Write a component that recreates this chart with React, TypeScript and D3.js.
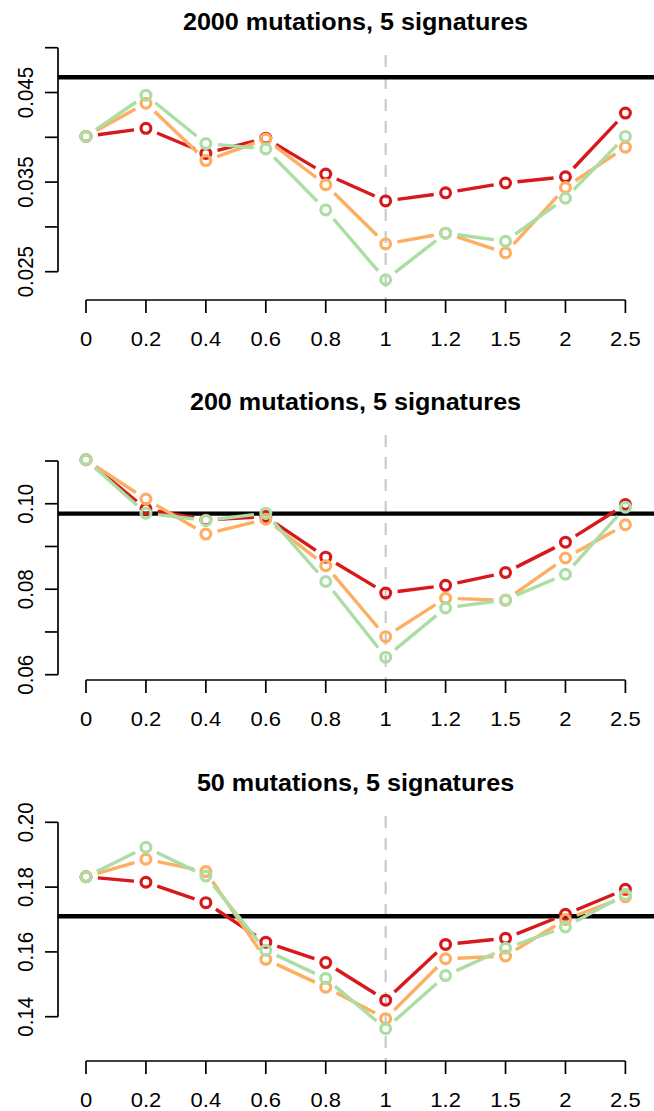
import React from "react";
import * as d3 from "d3";

const xLabels = ["0", "0.2", "0.4", "0.6", "0.8", "1", "1.2", "1.5", "2", "2.5"];
const seriesNames = ["red", "orange", "green"];
const seriesColors = ["#D7191C", "#FDAE61", "#ABDDA4"];

const titles = ["2000 mutations, 5 signatures", "200 mutations, 5 signatures", "50 mutations, 5 signatures"];

// panel 1: 2000 mutations
const p1Red = [0.0401, 0.0410, 0.0382, 0.0399, 0.0359, 0.0329, 0.0338, 0.0349, 0.0356, 0.0427];
const p1Orange = [0.0401, 0.0438, 0.0374, 0.0398, 0.0347, 0.0281, 0.0293, 0.0271, 0.0344, 0.0389];
const p1Green = [0.0401, 0.0447, 0.0393, 0.0387, 0.0319, 0.0241, 0.0293, 0.0284, 0.0332, 0.0401];
const p1Ref = 0.0467;
const p1Ticks = [0.025, 0.03, 0.035, 0.04, 0.045, 0.05];
const p1TickLabels = ["0.025", "", "0.035", "", "0.045", ""];

// panel 2: 200 mutations
const p2Red = [0.1103, 0.0988, 0.0962, 0.0970, 0.0875, 0.0791, 0.0809, 0.0839, 0.0910, 0.0998];
const p2Orange = [0.1103, 0.1011, 0.0929, 0.0964, 0.0855, 0.0689, 0.0779, 0.0774, 0.0873, 0.0951];
const p2Green = [0.1103, 0.0978, 0.0961, 0.0978, 0.0818, 0.0641, 0.0756, 0.0775, 0.0835, 0.0992];
const p2Ref = 0.0977;
const p2Ticks = [0.06, 0.07, 0.08, 0.09, 0.10, 0.11];
const p2TickLabels = ["0.06", "", "0.08", "", "0.10", ""];

// panel 3: 50 mutations
const p3Red = [0.1832, 0.1815, 0.1752, 0.1630, 0.1567, 0.1451, 0.1623, 0.1642, 0.1716, 0.1793];
const p3Orange = [0.1832, 0.1886, 0.1848, 0.1577, 0.1491, 0.1394, 0.1579, 0.1587, 0.1700, 0.1770];
const p3Green = [0.1832, 0.1923, 0.1834, 0.1605, 0.1518, 0.1363, 0.1527, 0.1611, 0.1677, 0.1777];
const p3Ref = 0.1710;
const p3Ticks = [0.14, 0.16, 0.18, 0.20];
const p3TickLabels = ["0.14", "0.16", "0.18", "0.20"];

const markerX = "1";

const panels = [
  { title: titles[0], series: [p1Red, p1Orange, p1Green], ref: p1Ref, ticks: p1Ticks, tickLabels: p1TickLabels },
  { title: titles[1], series: [p2Red, p2Orange, p2Green], ref: p2Ref, ticks: p2Ticks, tickLabels: p2TickLabels },
  { title: titles[2], series: [p3Red, p3Orange, p3Green], ref: p3Ref, ticks: p3Ticks, tickLabels: p3TickLabels },
];

// layout
const W = 654;
const H = 1111;
const panelOffsets = [0, 380, 761];
const yPix = [
  [271.7, 47.7],
  [294.7, 81],
  [255.7, 61.3],
];
const axisY = 300;
const axisX = 58;
const plotTop = 55;
const tickLen = 13;
const FONT = "'Liberation Sans', Arial, Helvetica, sans-serif";
const GAP = 12;

function gappedSegments(pts: [number, number][]) {
  const segs: [number, number, number, number][] = [];
  for (let i = 0; i < pts.length - 1; i++) {
    const [x1, y1] = pts[i];
    const [x2, y2] = pts[i + 1];
    const dx = x2 - x1, dy = y2 - y1;
    const len = Math.hypot(dx, dy);
    if (len <= 2 * GAP) continue;
    const ux = dx / len, uy = dy / len;
    segs.push([x1 + ux * GAP, y1 + uy * GAP, x2 - ux * GAP, y2 - uy * GAP]);
  }
  return segs;
}

export default function App() {
  const x = d3.scalePoint<string>().domain(xLabels).range([86, 625.4]);
  return (
    <svg width={W} height={H} style={{ display: "block", position: "absolute", left: 0, top: 0, background: "#fff" }}>
      <rect x={0} y={0} width={W} height={H} fill="#fff" />
      {panels.map((p, pi) => {
        const t = p.ticks;
        const y = d3.scaleLinear().domain([t[0], t[t.length - 1]]).range(yPix[pi]);
        return (
          <g key={pi} transform={`translate(0,${panelOffsets[pi]})`} fontFamily={FONT}>
            <text
              transform={`translate(355.5,30) scale(1.08,1)`}
              textAnchor="middle"
              fontWeight="bold"
              fontSize={23.3}
              fill="#000"
            >
              {p.title}
            </text>
            {/* dashed vertical marker */}
            <line
              x1={x(markerX)}
              x2={x(markerX)}
              y1={plotTop}
              y2={axisY}
              stroke="#c4c4c4"
              strokeWidth={2}
              strokeDasharray="12 10"
            />
            {/* reference line */}
            <line x1={axisX} x2={W} y1={y(p.ref)} y2={y(p.ref)} stroke="#000" strokeWidth={4.3} />
            {/* y axis */}
            <line x1={axisX} x2={axisX} y1={y(t[0])} y2={y(t[t.length - 1])} stroke="#000" strokeWidth={1.7} />
            {t.map((v, i) => (
              <g key={i}>
                <line x1={axisX - tickLen} x2={axisX} y1={y(v)} y2={y(v)} stroke="#000" strokeWidth={1.7} />
                {p.tickLabels[i] && (
                  <text
                    transform={`translate(33,${y(v)}) scale(1.12,1) rotate(-90)`}
                    textAnchor="middle"
                    fontSize={20.5}
                    fill="#000"
                  >
                    {p.tickLabels[i]}
                  </text>
                )}
              </g>
            ))}
            {/* x axis */}
            <line x1={x(xLabels[0])} x2={x(xLabels[xLabels.length - 1])} y1={axisY} y2={axisY} stroke="#000" strokeWidth={1.7} />
            {xLabels.map((l) => (
              <g key={l}>
                <line x1={x(l)} x2={x(l)} y1={axisY} y2={axisY + tickLen} stroke="#000" strokeWidth={1.7} />
                <text
                  transform={`translate(${x(l)},346) scale(1.1,1)`}
                  textAnchor="middle"
                  fontSize={20}
                  fill="#000"
                >
                  {l}
                </text>
              </g>
            ))}
            {/* series */}
            {p.series.map((vals, si) => {
              const pts: [number, number][] = vals.map((v, i) => [x(xLabels[i]) as number, y(v)]);
              return (
                <g key={seriesNames[si]}>
                  {gappedSegments(pts).map((s, k) => (
                    <line key={k} x1={s[0]} y1={s[1]} x2={s[2]} y2={s[3]} stroke={seriesColors[si]} strokeWidth={3.4} />
                  ))}
                  {pts.map((pt, k) => (
                    <circle key={k} cx={pt[0]} cy={pt[1]} r={4.9} fill="none" stroke={seriesColors[si]} strokeWidth={3.2} />
                  ))}
                </g>
              );
            })}
          </g>
        );
      })}
    </svg>
  );
}
